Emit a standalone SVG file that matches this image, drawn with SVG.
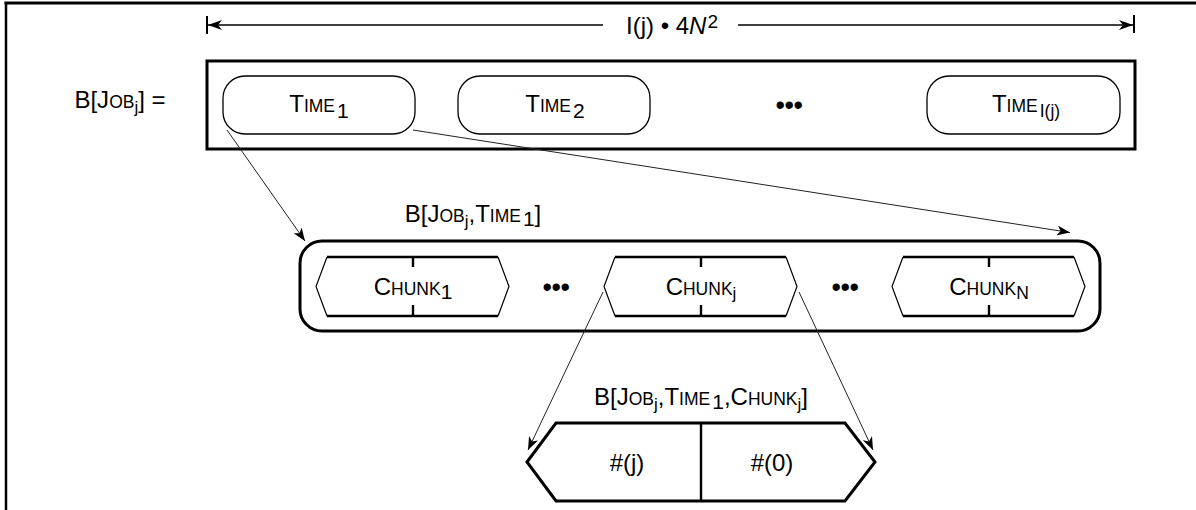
<svg xmlns="http://www.w3.org/2000/svg" width="1196" height="510" viewBox="0 0 1196 510">
<defs>
<marker id="arr" markerUnits="userSpaceOnUse" markerWidth="14" markerHeight="10" refX="13" refY="5" orient="auto">
<path d="M0,0 L13,5 L0,10 L3.5,5 Z" fill="#000"/>
</marker>
<marker id="darr" markerUnits="userSpaceOnUse" markerWidth="15" markerHeight="11" refX="14" refY="5.5" orient="auto">
<path d="M0,0.5 L14,5.5 L0,10.5 L4,5.5 Z" fill="#000"/>
</marker>
</defs>
<style>
text{font-family:"Liberation Sans",Arial,sans-serif;font-size:24px;fill:#000}
.sc{font-size:17.5px}
.sub{font-size:21px}
.subs{font-size:17px}
.dots{font-size:27px;letter-spacing:-0.5px}
.thick{fill:none;stroke:#000;stroke-width:3}
.pill{fill:#fff;stroke:#000;stroke-width:1.3}
.side{fill:none;stroke:#000;stroke-width:1.2}
.edge{fill:none;stroke:#000;stroke-width:2.4}
.conn{fill:none;stroke:#222;stroke-width:1}
</style>
<g id="frame">
<line x1="4.5" y1="3" x2="1196" y2="3" stroke="#000" stroke-width="3"/>
<line x1="6" y1="2" x2="6" y2="510" stroke="#000" stroke-width="2.5"/>
</g>
<g id="dimension">
<line x1="207" y1="16" x2="207" y2="34" stroke="#000" stroke-width="2"/>
<line x1="1134" y1="15" x2="1134" y2="33" stroke="#000" stroke-width="2"/>
<line x1="603" y1="25" x2="208" y2="25" stroke="#000" stroke-width="1.3" marker-end="url(#darr)"/>
<line x1="738" y1="25" x2="1133" y2="25" stroke="#000" stroke-width="1.3" marker-end="url(#darr)"/>
<text x="672" y="34" text-anchor="middle">I(j) • 4<tspan font-style="italic">N</tspan><tspan font-size="19" dy="-6" dx="1">2</tspan></text>
</g>
<g id="job-label">
<text x="120" y="108" text-anchor="middle">B[J<tspan class="sc">OB</tspan><tspan class="subs" dy="5">j</tspan><tspan dy="-5">] =</tspan></text>
</g>
<g id="job">
<rect x="207" y="61" width="928" height="88" class="thick"/>
</g>
<g id="time1">
<rect x="223" y="76" width="192" height="58" rx="22" ry="22" class="pill"/>
<text x="319" y="112" text-anchor="middle">T<tspan class="sc">IME</tspan><tspan class="sub" dy="6" dx="2">1</tspan></text>
</g>
<g id="time2">
<rect x="458" y="76" width="192" height="58" rx="22" ry="22" class="pill"/>
<text x="555" y="112" text-anchor="middle">T<tspan class="sc">IME</tspan><tspan class="sub" dy="6" dx="2">2</tspan></text>
</g>
<g id="time-dots">
<text x="789" y="114" text-anchor="middle" class="dots">•••</text>
</g>
<g id="timeI">
<rect x="927" y="76" width="193" height="58" rx="22" ry="22" class="pill"/>
<text x="1026" y="112" text-anchor="middle">T<tspan class="sc">IME</tspan><tspan class="sc" dy="5" dx="2">I(j)</tspan></text>
</g>
<g id="time-block">
<text x="473" y="222" text-anchor="middle">B[J<tspan class="sc">OB</tspan><tspan class="subs" dy="5">j</tspan><tspan dy="-5">,T</tspan><tspan class="sc">IME</tspan><tspan class="sub" dy="4" dx="2">1</tspan><tspan dy="-4">]</tspan></text>
<rect x="300" y="241" width="800" height="90" rx="22" ry="22" class="thick"/>
</g>
<g id="chunk1">
<path d="M327,257 L316,286.5 L327,316 M498,257 L509,286.5 L498,316" class="side"/>
<path d="M327,257 H498 M327,316 H498 M413,257 V267 M413,305 V316" class="edge"/>
<text x="413" y="295" text-anchor="middle">C<tspan class="sc">HUNK</tspan><tspan class="sub" dy="4">1</tspan></text>
</g>
<g id="chunk-dots1">
<text x="556" y="296" text-anchor="middle" class="dots">•••</text>
</g>
<g id="chunkj">
<path d="M615,257 L604,286.5 L615,316 M786,257 L797,286.5 L786,316" class="side"/>
<path d="M615,257 H786 M615,316 H786 M701,257 V267 M701,305 V316" class="edge"/>
<text x="701" y="295" text-anchor="middle">C<tspan class="sc">HUNK</tspan><tspan class="subs" dy="4">j</tspan></text>
</g>
<g id="chunk-dots2">
<text x="845" y="296" text-anchor="middle" class="dots">•••</text>
</g>
<g id="chunkN">
<path d="M903,257 L892,286.5 L903,316 M1074,257 L1085,286.5 L1074,316" class="side"/>
<path d="M903,257 H1074 M903,316 H1074 M989,257 V267 M989,305 V316" class="edge"/>
<text x="989" y="295" text-anchor="middle">C<tspan class="sc">HUNK</tspan><tspan class="sc" dy="4">N</tspan></text>
</g>
<g id="chunk-block">
<text x="701" y="405" text-anchor="middle">B[J<tspan class="sc">OB</tspan><tspan class="subs" dy="5">j</tspan><tspan dy="-5">,T</tspan><tspan class="sc">IME</tspan><tspan class="sub" dy="4" dx="2">1</tspan><tspan dy="-4">,C</tspan><tspan class="sc">HUNK</tspan><tspan class="subs" dy="5">j</tspan><tspan dy="-5">]</tspan></text>
<path d="M527,462 L556,423 H845 L875,462 L845,501 H556 Z" class="thick"/>
<line x1="701" y1="423" x2="701" y2="501" stroke="#000" stroke-width="2.4"/>
<text x="627" y="471" text-anchor="middle">#(j)</text>
<text x="772" y="471" text-anchor="middle">#(0)</text>
</g>
<g id="connectors">
<line x1="227" y1="130" x2="305" y2="241" class="conn" marker-end="url(#arr)"/>
<line x1="413" y1="130" x2="1070" y2="232.5" class="conn" marker-end="url(#arr)"/>
<line x1="603" y1="292" x2="528" y2="450" class="conn" marker-end="url(#arr)"/>
<line x1="799" y1="292" x2="873" y2="450" class="conn" marker-end="url(#arr)"/>
</g>
</svg>
